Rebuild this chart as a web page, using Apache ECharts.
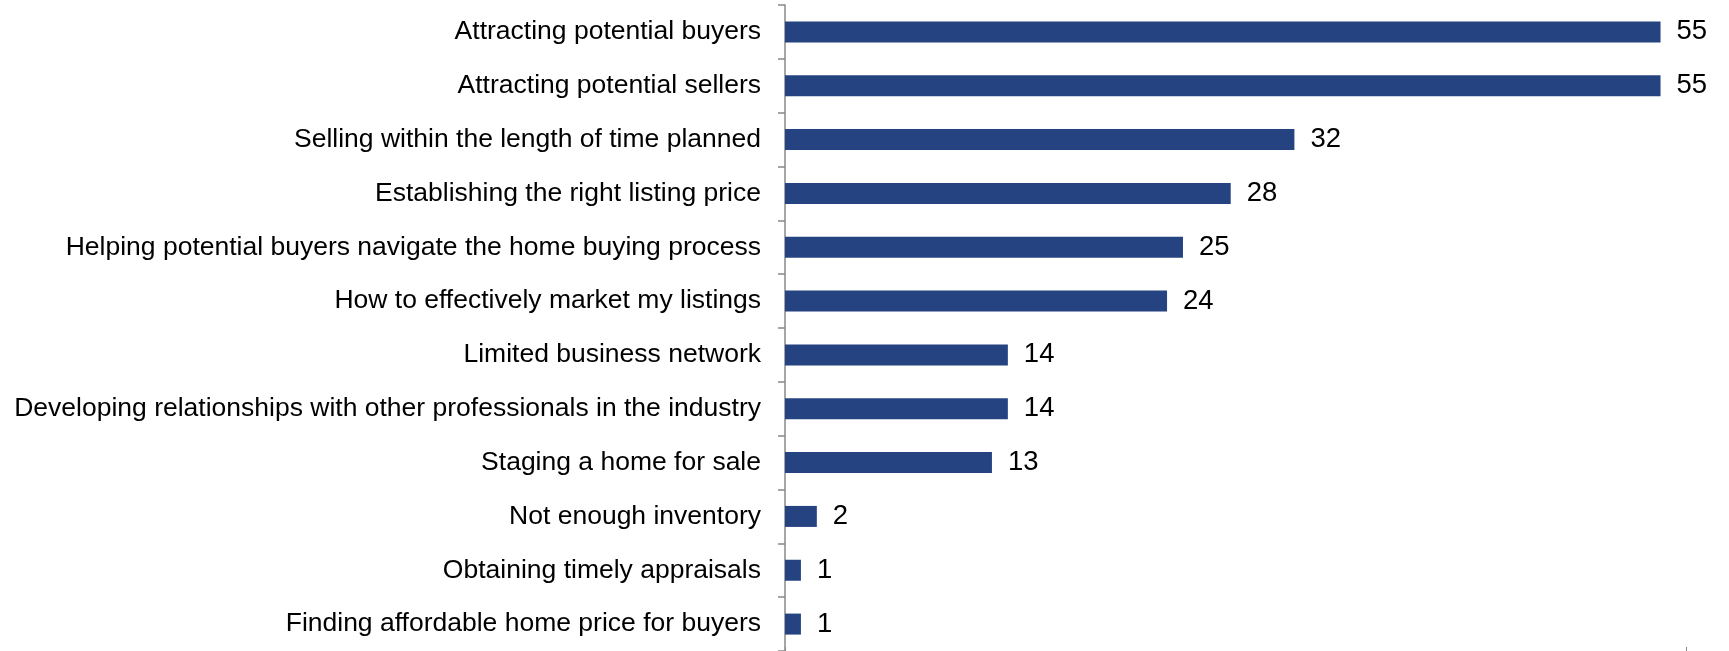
<!DOCTYPE html>
<html><head><meta charset="utf-8">
<script src="https://cdn.jsdelivr.net/npm/echarts@6/dist/echarts.min.js"></script>
<style>html,body{margin:0;padding:0;background:#fff}#c{width:1729px;height:651px}</style>
</head><body><div id="c"></div>
<script>
const categories = [
  "Attracting potential buyers",
  "Attracting potential sellers",
  "Selling within the length of time planned",
  "Establishing the right listing price",
  "Helping potential buyers navigate the home buying process",
  "How to effectively market my listings",
  "Limited business network",
  "Developing relationships with other professionals in the industry",
  "Staging a home for sale",
  "Not enough inventory",
  "Obtaining timely appraisals",
  "Finding affordable home price for buyers"
];
const values = [55, 55, 32, 28, 25, 24, 14, 14, 13, 2, 1, 1];
const xMax = 56.6;

const chart = echarts.init(document.getElementById('c'), null, {renderer: 'canvas'});
chart.setOption({
  animation: false,
  grid: {left: 785, right: 43, top: 5, height: 647},
  xAxis: {
    type: 'value', min: 0, max: xMax, interval: xMax,
    axisLine: {show: false},
    axisTick: {show: true, inside: true, length: 4, lineStyle: {color: '#888'}},
    axisLabel: {show: false},
    splitLine: {show: false}
  },
  yAxis: {
    type: 'category', data: categories, inverse: true,
    axisLine: {show: true, lineStyle: {color: '#888', width: 1.5}},
    axisTick: {show: true, length: 7, lineStyle: {color: '#888', width: 1.5}},
    axisLabel: {margin: 24, color: '#000', fontSize: 26.5, fontFamily: 'Liberation Sans, Arial, sans-serif'}
  },
  series: [{
    type: 'bar', data: values, barWidth: 21,
    itemStyle: {color: '#264381'},
    label: {show: true, position: 'right', distance: 16, color: '#000', fontSize: 27.5, fontFamily: 'Liberation Sans, Arial, sans-serif'}
  }]
});
</script></body></html>
